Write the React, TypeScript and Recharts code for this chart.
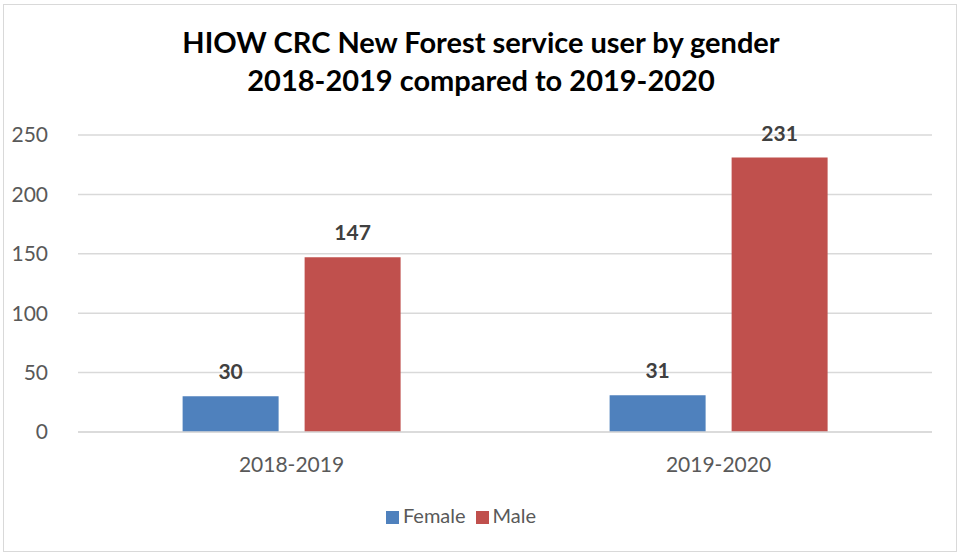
import React from "react";
import { BarChart, Bar, XAxis, YAxis, CartesianGrid, Legend, LabelList } from "recharts";

const categories = ["2018-2019", "2019-2020"];
const femaleValues = [30, 31];
const maleValues = [147, 231];
const yTicks = [0, 50, 100, 150, 200, 250];

const data = categories.map((c, i) => ({ period: c, Female: femaleValues[i], Male: maleValues[i] }));

const FONT = "Lato, 'Open Sans', 'Liberation Sans', sans-serif";

export default function App() {
  return (
    <div style={{ position: "absolute", left: 0, top: 0, width: 962, height: 554, background: "#fff", fontFamily: FONT }}>
      <div style={{ position: "absolute", left: 3, top: 4, width: 954, height: 548, border: "1px solid #D9D9D9", boxSizing: "border-box" }} />
      <div style={{ position: "absolute", left: 0, top: 23, width: 962, textAlign: "center", fontWeight: 700, fontSize: 29, lineHeight: "38px", color: "#000" }}>
        <div>HIOW CRC New Forest service user by gender</div>
        <div>2018-2019 compared to 2019-2020</div>
      </div>
      <div style={{ position: "absolute", left: 0, top: 0 }}>
        <BarChart width={962} height={554} data={data} margin={{ top: 135, right: 30, bottom: 68, left: 0 }} barCategoryGap="24.5%" barGap={26}>
          <CartesianGrid vertical={false} stroke="#D9D9D9" strokeWidth={1.5} />
          <XAxis dataKey="period" axisLine={{ stroke: "#D9D9D9", strokeWidth: 1.5 }} tickLine={false} tickMargin={19} tick={{ fill: "#595959", fontSize: 21, fontFamily: FONT }} />
          <YAxis width={78} domain={[0, 250]} ticks={yTicks} axisLine={false} tickLine={false} tickSize={0} tickMargin={30} tick={{ fill: "#595959", fontSize: 21, fontFamily: FONT }} />
          <Legend verticalAlign="bottom" iconType="square" iconSize={13} wrapperStyle={{ top: 503, fontSize: 20, fontFamily: FONT, color: "#595959" }} formatter={(v) => <span style={{ color: "#595959" }}>{v}</span>} />
          <Bar dataKey="Female" fill="#4F81BD" isAnimationActive={false}>
            <LabelList dataKey="Female" position="top" offset={17} style={{ fill: "#404040", fontWeight: 700, fontSize: 21, fontFamily: FONT }} />
          </Bar>
          <Bar dataKey="Male" fill="#C0504D" isAnimationActive={false}>
            <LabelList dataKey="Male" position="top" offset={17} style={{ fill: "#404040", fontWeight: 700, fontSize: 21, fontFamily: FONT }} />
          </Bar>
        </BarChart>
      </div>
    </div>
  );
}
